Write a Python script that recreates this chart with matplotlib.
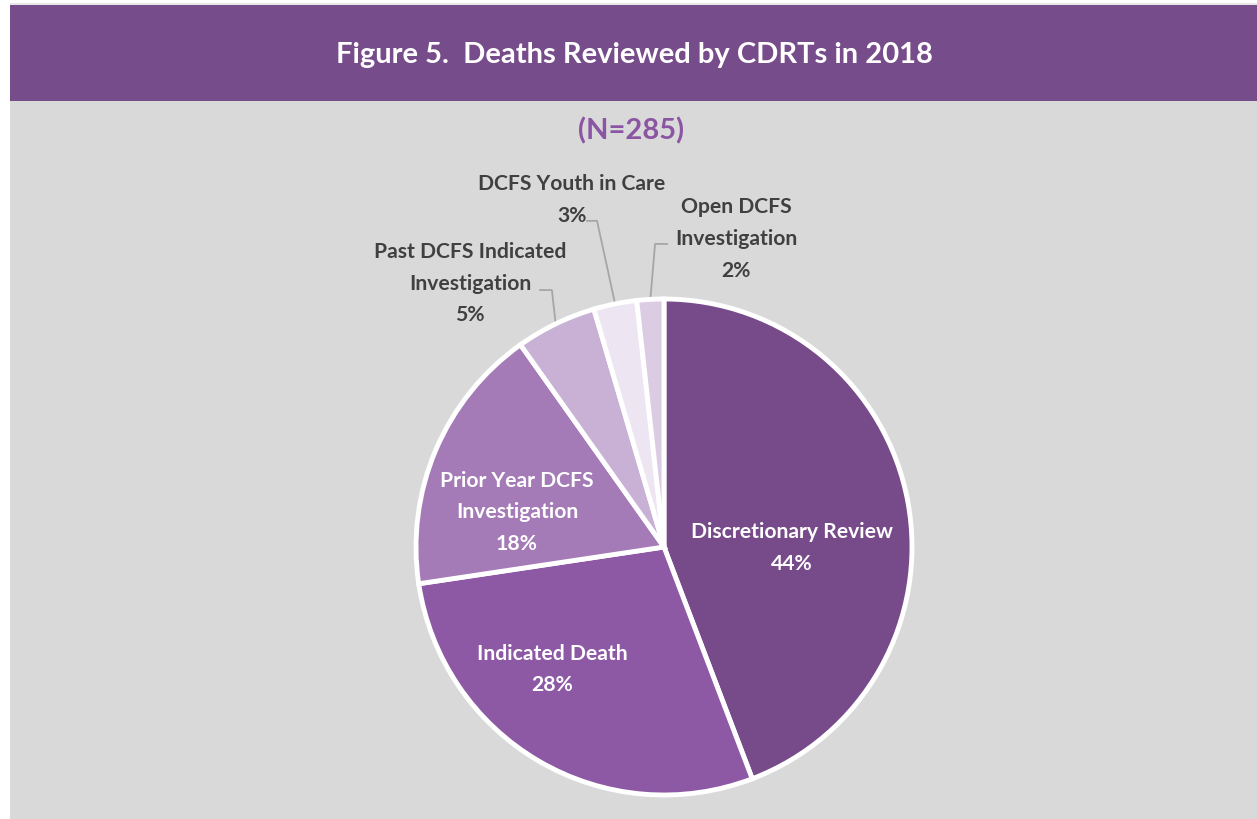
import matplotlib
matplotlib.use("Agg")
import matplotlib.pyplot as plt
from matplotlib.patches import Rectangle
import numpy as np

# data (N=285)
categories = ["Discretionary Review", "Indicated Death", "Prior Year DCFS\nInvestigation",
              "Past DCFS Indicated\nInvestigation", "DCFS Youth in Care", "Open DCFS\nInvestigation"]
counts = [126, 81, 50, 15, 8, 5]
pct_labels = ["44%", "28%", "18%", "5%", "3%", "2%"]
colors = ["#774A89", "#8D59A4", "#A47BB7", "#C8B1D5", "#EDE5F1", "#DCCCE3"]

W, H = 1257, 820
plt.rcParams['font.family'] = ['Lato', 'DejaVu Sans']

fig = plt.figure(figsize=(W / 100, H / 100), dpi=100, facecolor="white")

def px_rect(x0, y0, x1, y1, color):
    fig.add_artist(Rectangle((x0 / W, 1 - y1 / H), (x1 - x0) / W, (y1 - y0) / H,
                             transform=fig.transFigure, facecolor=color,
                             edgecolor="none", zorder=0))

px_rect(10, 4, W, 6, "#E6E6E6")
px_rect(10, 6, W, 102, "#774C8A")
px_rect(10, 102, W, H, "#D9D9D9")

fig.text(634 / W, 1 - 55 / H, "Figure 5.  Deaths Reviewed by CDRTs in 2018",
         color="white", fontsize=21, fontweight="bold", ha="center", va="center")
fig.text(631 / W, 1 - 131 / H, "(N=285)", color="#8B55A3", fontsize=21,
         fontweight="bold", ha="center", va="center")

# pie axes
cx, cy, r = 664, 548, 248
ax = fig.add_axes([(cx - r) / W, (H - cy - r) / H, 2 * r / W, 2 * r / H])
wedges, _ = ax.pie(counts, colors=colors, startangle=90, counterclock=False,
                   wedgeprops=dict(edgecolor="white", linewidth=3.5))
ax.set_xlim(-1, 1)
ax.set_ylim(-1, 1)
ax.set_aspect("equal")
ax.axis("off")

# label positions (axes units of radius)
label_pos = [(0.516, 0.0), (-0.452, -0.49), (-0.593, 0.145),
             (-0.782, 1.065), (-0.371, 1.403), (0.29, 1.246)]
inside = [True, True, True, False, False, False]
# leader elbow: (start x, elbow x, y)
leaders = {3: (-0.50, -0.452, 1.036), 4: (-0.31, -0.27, 1.315), 5: (0.012, -0.036, 1.222)}

for i, w in enumerate(wedges):
    x, y = label_pos[i]
    col = "white" if inside[i] else "#404040"
    ax.text(x, y, categories[i] + "\n" + pct_labels[i], color=col, fontsize=15.2,
            fontweight="bold", ha="center", va="center", linespacing=1.72,
            clip_on=False)
    if i in leaders:
        mid = np.deg2rad((w.theta1 + w.theta2) / 2)
        ex, ey = np.cos(mid) * 1.0, np.sin(mid) * 1.0
        sx, bx, ly = leaders[i]
        ax.plot([sx, bx, ex], [ly, ly, ey], color="#A6A6A6", lw=1.3,
                clip_on=False, zorder=0.5)

fig.savefig("out.png", dpi=100, facecolor="white")
